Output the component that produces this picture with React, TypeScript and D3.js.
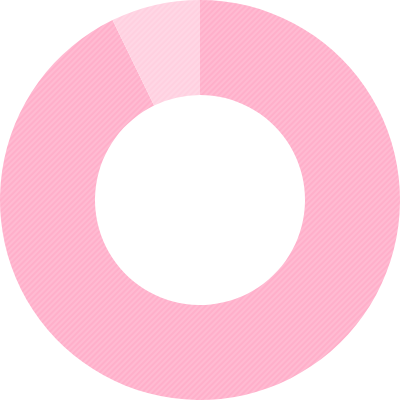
import React from 'react';
import * as d3 from 'd3';

const labels = ['A', 'B'];
const values = [92.8, 7.2];
const baseColors = ['#ffafca', '#ffd0e0'];

const width = 400;
const height = 400;

const App: React.FC = () => {
  const outer = 200;
  const inner = 105;
  const pie = d3.pie<number>().sort(null).value(d => d);
  const arc = d3.arc<d3.PieArcDatum<number>>().innerRadius(inner).outerRadius(outer);
  const arcs = pie(values);

  return (
    <svg
      width={width}
      height={height}
      style={{ position: 'fixed', top: 0, left: 0, display: 'block' }}
    >
      <defs>
        {labels.map((l, i) => (
          <pattern
            key={l}
            id={`hatch-${i}`}
            patternUnits="userSpaceOnUse"
            width={4}
            height={4}
            patternTransform="rotate(45)"
          >
            <rect width={4} height={4} fill={baseColors[i]} />
            <line x1={1} y1={0} x2={1} y2={4} stroke="#ffffff" strokeOpacity={0.3} strokeWidth={1} />
          </pattern>
        ))}
      </defs>
      <g transform={`translate(${width / 2},${height / 2})`}>
        {arcs.map((a, i) => (
          <path key={labels[i]} d={arc(a) || ''} fill={`url(#hatch-${i})`} />
        ))}
      </g>
    </svg>
  );
};

export default App;
